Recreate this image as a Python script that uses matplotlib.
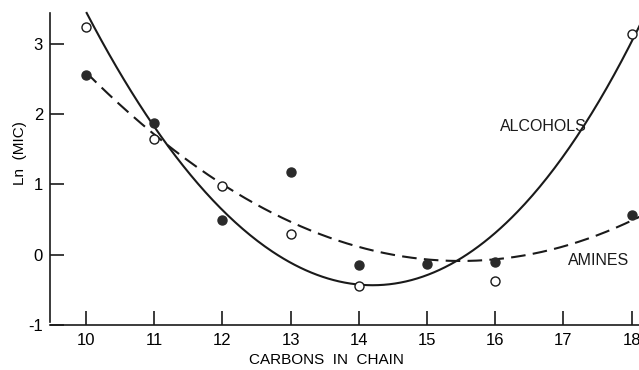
import numpy as np
import matplotlib.pyplot as plt

plt.rcParams['font.family'] = ['Liberation Sans', 'DejaVu Sans']

# chain length (carbons) and ln(MIC) for each series
alc_carbons = [10, 11, 12, 13, 14, 16, 18]
alc_lnmic = [3.23, 1.65, 0.97, 0.30, -0.44, -0.38, 3.13]

amine_carbons = [10, 11, 12, 13, 14, 15, 16, 18]
amine_lnmic = [2.55, 1.87, 0.49, 1.18, -0.14, -0.13, -0.11, 0.56]

# points along the hand-fitted trend curves
alc_curve_x = [10.01, 10.98, 11.19, 11.67, 11.96, 12.26, 12.65, 13.14, 13.58, 14.0, 14.41,
               14.85, 15.29, 15.73, 16.07, 16.36, 16.66, 16.95, 17.27, 17.68, 18.02, 18.1]
alc_curve_y = [3.44, 1.84, 1.56, 0.95, 0.71, 0.41, 0.07, -0.16, -0.35, -0.44, -0.43,
               -0.33, -0.14, 0.07, 0.38, 0.62, 0.95, 1.37, 1.82, 2.41, 3.11, 3.19]
amine_curve_x = [10.0, 11.0, 11.67, 12.0, 13.14, 14.0, 14.85, 15.73, 16.36, 17.1, 17.93, 18.12]
amine_curve_y = [2.55, 1.80, 1.21, 0.97, 0.42, 0.075, -0.07, -0.09, -0.02, 0.22, 0.43, 0.52]

x_ticks = [10, 11, 12, 13, 14, 15, 16, 17, 18]
y_ticks = [-1, 0, 1, 2, 3]

fig = plt.figure(figsize=(6.39, 3.70), dpi=100)
ax = fig.add_axes([0.0782, 0.1216, 0.9218, 0.8784])

# smooth the traced curves with low-order polynomials
alc_fit = np.poly1d(np.polyfit(alc_curve_x, alc_curve_y, 4))
amine_fit = np.poly1d(np.polyfit(amine_curve_x, amine_curve_y, 3))

xs = np.linspace(alc_curve_x[0], alc_curve_x[-1] + 0.05, 300)
ax.plot(xs, alc_fit(xs), color='#1a1a1a', lw=1.5)
xs2 = np.linspace(amine_curve_x[0], amine_curve_x[-1], 300)
ax.plot(xs2, amine_fit(xs2), color='#1a1a1a', lw=1.5, dashes=(7, 3.5))

ax.plot(amine_carbons, amine_lnmic, 'o', ms=6.5, mfc='#2a2a2a', mec='#2a2a2a')
ax.plot(alc_carbons, alc_lnmic, 'o', ms=6.5, mfc='white', mec='#1a1a1a', mew=1.0)

ax.text(16.07, 1.82, 'ALCOHOLS', fontsize=11.5, va='center', ha='left', color='#1a1a1a')
ax.text(17.07, -0.08, 'AMINES', fontsize=11.5, va='center', ha='left', color='#1a1a1a')

ax.set_xlim(9.472, 18.108)
ax.set_ylim(-0.958, 3.62)
ax.set_xticks(x_ticks)
ax.set_yticks(y_ticks)
ax.set_xticklabels([str(t) for t in x_ticks], fontsize=12)
ax.set_yticklabels([str(t) for t in y_ticks], fontsize=12)
ax.tick_params(direction='in', length=10, width=1.2, color='#1a1a1a', pad=6)
ax.tick_params(axis='y', pad=5)

for side in ['top', 'right']:
    ax.spines[side].set_visible(False)
for side in ['left', 'bottom']:
    ax.spines[side].set_linewidth(1.2)
    ax.spines[side].set_color('#1a1a1a')
ax.spines['left'].set_bounds(-0.958, 3.44)

ax.set_xlabel('CARBONS  IN  CHAIN', fontsize=11)
ax.xaxis.set_label_coords(0.469, -0.086)
ax.set_ylabel('Ln  (MIC)', fontsize=11)
ax.yaxis.set_label_coords(-0.039, 0.529)

fig.savefig('out.png', dpi=100)
